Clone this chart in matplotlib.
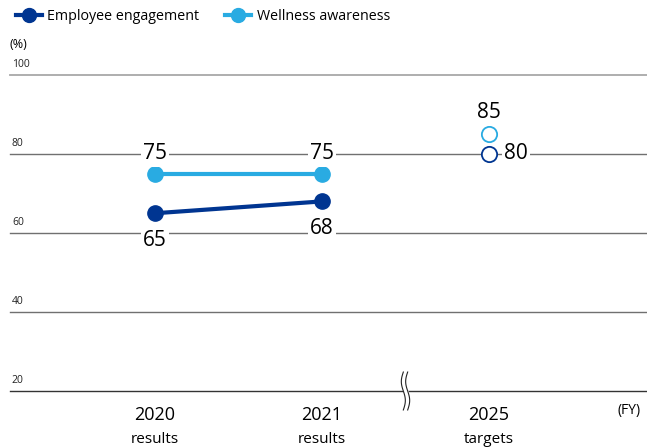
import numpy as np
import matplotlib.pyplot as plt
from matplotlib.lines import Line2D

plt.rcParams['font.family'] = ['Open Sans', 'DejaVu Sans']

years = ['2020', '2021', '2025']
kinds = ['results', 'results', 'targets']
engagement = [65, 68]
wellness = [75, 75]
eng_target = 80
well_target = 85
yticks = [20, 40, 60, 80, 100]

NAVY = '#003591'
CYAN = '#29abe2'

fig = plt.figure(figsize=(6.47, 4.48), dpi=100)
ax = fig.add_axes([10 / 647, 57 / 448, 637 / 647, 316 / 448])
ax.set_ylim(20, 100)
ax.set_xlim(-145 / 167, 492 / 167)
ax.axis('off')

# gridlines and small tick labels sitting above them
for v in yticks:
    col = '#333333' if v == 20 else ('#a8a8a8' if v == 100 else '#707070')
    ax.axhline(v, color=col, lw=1.0 if v != 100 else 1.3, zorder=1, clip_on=False)
    ax.text(0.003, v + 1.2, str(v), transform=ax.get_yaxis_transform(),
            fontsize=7.5, ha='left', va='bottom', color='#222222')

x_res = np.arange(len(engagement))
ax.plot(x_res, engagement, color=NAVY, lw=3, marker='o', ms=11, zorder=4)
ax.plot(x_res, wellness, color=CYAN, lw=3, marker='o', ms=11, zorder=4)
ax.plot([2], [well_target], marker='o', ms=11, mfc='white', mec=CYAN, mew=1.3, zorder=4)
ax.plot([2], [eng_target], marker='o', ms=11, mfc='white', mec=NAVY, mew=1.3, zorder=4)

box = dict(facecolor='white', edgecolor='none', pad=1.5)
for i, v in enumerate(wellness):
    ax.text(x_res[i], v + 5.0, str(v), ha='center', va='center', fontsize=15,
            bbox=box, zorder=5)
for i, v in enumerate(engagement):
    ax.text(x_res[i], v - 6.8, str(v), ha='center', va='center', fontsize=15,
            bbox=box, zorder=5)
ax.text(2, well_target + 5.4, str(well_target), ha='center', va='center', fontsize=15,
        bbox=box, zorder=5)
ax.text(2.16, eng_target, str(eng_target), ha='center', va='center', fontsize=15,
        bbox=box, zorder=5)

# x labels
for i, (yr, k) in enumerate(zip(years, kinds)):
    ax.text(i, 14.0, yr, ha='center', va='center', fontsize=13)
    ax.text(i, 7.7, k, ha='center', va='center', fontsize=11)
ax.text(2.84, 15.0, '(FY)', ha='center', va='center', fontsize=10)

# axis break
t = np.linspace(0, 1, 50)
ys = 15.2 + t * 9.6
xs = 1.5 + 0.012 * np.sin(2 * np.pi * t)
ax.fill_betweenx(ys, xs - 0.012, xs + 0.012, color='white', zorder=6, clip_on=False)
ax.plot(xs - 0.013, ys, color='#222222', lw=0.8, zorder=7, clip_on=False)
ax.plot(xs + 0.013, ys, color='#222222', lw=0.8, zorder=7, clip_on=False)

fig.text(10 / 647, 1 - 45 / 448, '(%)', fontsize=9, va='center', ha='left')

h1 = Line2D([], [], color=NAVY, lw=3, marker='o', ms=10)
h2 = Line2D([], [], color=CYAN, lw=3, marker='o', ms=10)
fig.legend(handles=[h1, h2], labels=['Employee engagement', 'Wellness awareness'],
           loc='center left', bbox_to_anchor=(3 / 647, 1 - 17 / 448),
           ncol=2, frameon=False, fontsize=10.3, handlelength=1.8, handletextpad=0.4,
           columnspacing=1.8)

fig.savefig('out.png', dpi=100)
